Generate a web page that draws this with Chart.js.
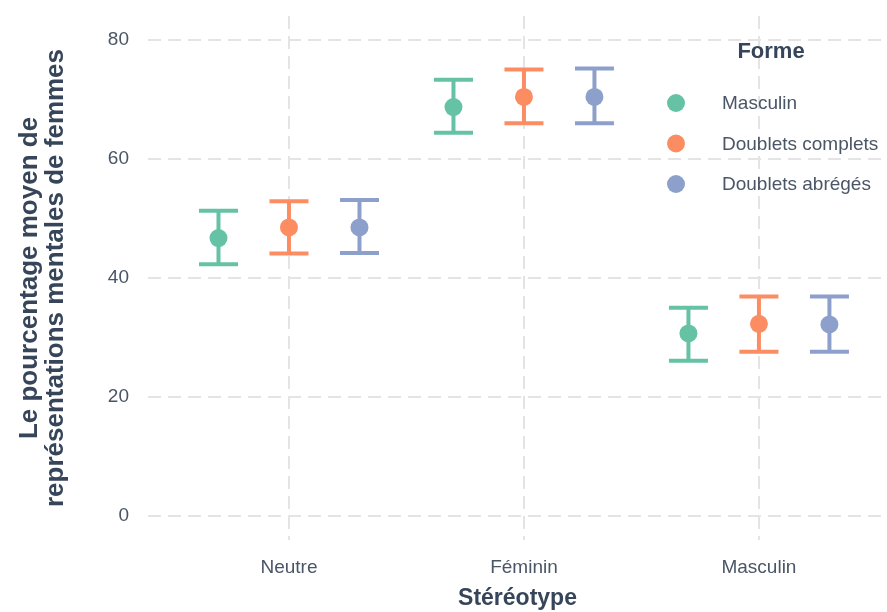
<!DOCTYPE html>
<html>
<head>
<meta charset="utf-8">
<script src="https://cdn.jsdelivr.net/npm/chart.js@4.4.1/dist/chart.umd.min.js"></script>
<style>
  html, body { margin: 0; padding: 0; background: #ffffff; }
  #wrap { width: 887px; height: 612px; position: relative; }
</style>
</head>
<body>
<div id="wrap"><canvas id="c" width="887" height="612"></canvas></div>
<script>
// ---- Data ----
const categories = ['Neutre', 'Féminin', 'Masculin'];
const seriesNames = ['Masculin', 'Doublets complets', 'Doublets abrégés'];
const seriesColors = ['#66c2a5', '#fc8d62', '#8da0cb'];

const meanMasculin = [46.7, 68.7, 30.7];
const lowMasculin  = [42.3, 64.4, 26.1];
const highMasculin = [51.3, 73.3, 35.0];

const meanComplets = [48.5, 70.4, 32.3];
const lowComplets  = [44.1, 66.0, 27.6];
const highComplets = [52.9, 75.0, 36.9];

const meanAbreges = [48.5, 70.4, 32.2];
const lowAbreges  = [44.2, 66.0, 27.6];
const highAbreges = [53.1, 75.2, 36.9];

const yTicks = [0, 20, 40, 60, 80];
const xTitle = 'Stéréotype';
const yTitle = ['Le pourcentage moyen de', 'représentations mentales de femmes'];
const legendTitle = 'Forme';

// ---- Build ----
const means = [meanMasculin, meanComplets, meanAbreges];
const lows = [lowMasculin, lowComplets, lowAbreges];
const highs = [highMasculin, highComplets, highAbreges];
const dodge = [-0.3, 0, 0.3];
const capHalf = 0.083;

const datasets = seriesNames.map((name, s) => ({
  label: name,
  data: categories.map((c, i) => ({ x: i + 1 + dodge[s], y: means[s][i], lo: lows[s][i], hi: highs[s][i] })),
  backgroundColor: seriesColors[s],
  borderColor: seriesColors[s],
  pointRadius: 9,
  pointHoverRadius: 9,
  pointBorderWidth: 0,
  showLine: false
}));

const textColor = '#4a5566';
const titleColor = '#36455a';
const gridColor = '#e4e4e4';
const FONT = "'Liberation Sans', Arial, Helvetica, sans-serif";

const errorBars = {
  id: 'errorBars',
  beforeDatasetsDraw(chart) {
    const { ctx } = chart;
    const xs = chart.scales.x, ys = chart.scales.y;
    ctx.save();
    ctx.lineWidth = 4;
    ctx.lineCap = 'butt';
    chart.data.datasets.forEach(ds => {
      ctx.strokeStyle = ds.borderColor;
      ds.data.forEach(d => {
        const x = xs.getPixelForValue(d.x);
        const xl = xs.getPixelForValue(d.x - capHalf);
        const xr = xs.getPixelForValue(d.x + capHalf);
        const yl = ys.getPixelForValue(d.lo);
        const yh = ys.getPixelForValue(d.hi);
        ctx.beginPath();
        ctx.moveTo(x, yl); ctx.lineTo(x, yh);
        ctx.moveTo(xl, yl); ctx.lineTo(xr, yl);
        ctx.moveTo(xl, yh); ctx.lineTo(xr, yh);
        ctx.stroke();
      });
    });
    ctx.restore();
  }
};

const customLegend = {
  id: 'customLegend',
  afterDatasetsDraw(chart) {
    const { ctx } = chart;
    ctx.save();
    ctx.fillStyle = titleColor;
    ctx.font = "bold 22px " + FONT;
    ctx.textAlign = 'center';
    ctx.textBaseline = 'middle';
    ctx.fillText(legendTitle, 771, 52);
    ctx.font = "19px " + FONT;
    ctx.textAlign = 'left';
    chart.data.datasets.forEach((ds, i) => {
      const y = 103 + i * 40.5;
      ctx.beginPath();
      ctx.fillStyle = ds.backgroundColor;
      ctx.arc(676, y, 9, 0, Math.PI * 2);
      ctx.fill();
      ctx.fillStyle = textColor;
      ctx.fillText(ds.label, 722, y + 1);
    });
    ctx.restore();
  }
};

new Chart(document.getElementById('c'), {
  type: 'scatter',
  data: { datasets },
  plugins: [errorBars, customLegend],
  options: {
    responsive: false,
    animation: false,
    layout: { autoPadding: false, padding: { top: 16, right: 0, left: 0, bottom: 0 } },
    plugins: { legend: { display: false }, tooltip: { enabled: false } },
    scales: {
      x: {
        type: 'linear',
        min: 0.4,
        max: 3.545,
        afterBuildTicks: s => { s.ticks = categories.map((c, i) => ({ value: i + 1 })); },
        afterFit: s => { s.height = 72; s.paddingLeft = 0; s.paddingRight = 0; },
        ticks: {
          callback: v => categories[Math.round(v) - 1] || '',
          color: textColor,
          font: { family: FONT, size: 19 },
          padding: 16,
          maxRotation: 0
        },
        grid: { color: gridColor, lineWidth: 2, drawTicks: false },
        border: { display: false, dash: [13, 7] },
        title: {
          display: true,
          text: xTitle,
          color: titleColor,
          font: { family: FONT, size: 23, weight: 'bold' },
          padding: { top: 6, bottom: 0 }
        }
      },
      y: {
        min: -4,
        max: 84,
        afterBuildTicks: s => { s.ticks = yTicks.map(v => ({ value: v })); },
        afterFit: s => { s.width = 148; s.paddingTop = 0; s.paddingBottom = 0; },
        ticks: {
          color: textColor,
          font: { family: FONT, size: 19 },
          padding: 19
        },
        grid: { color: gridColor, lineWidth: 2, drawTicks: false },
        border: { display: false, dash: [13, 7] },
        title: {
          display: true,
          text: yTitle,
          color: titleColor,
          font: { family: FONT, size: 26, weight: 'bold', lineHeight: 1.0 },
          padding: { top: 17, bottom: 0 }
        }
      }
    }
  }
});
</script>
</body>
</html>
